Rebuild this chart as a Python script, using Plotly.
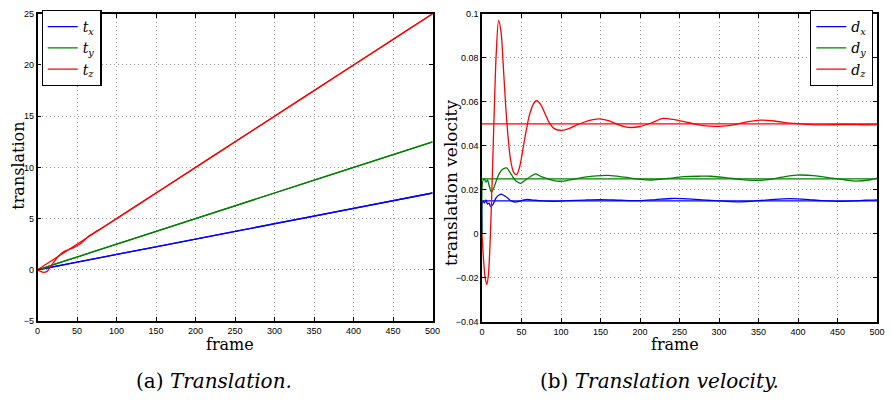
import plotly.graph_objects as go

W, H = 891, 406

# ---------------- data: translation (left) ----------------
gt_frames = [0, 500]
gt_tx = [0, 7.5]
gt_ty = [0, 12.5]
gt_tz = [0, 25.0]

est_xy_frames = [0, 10, 20, 50, 100, 200, 300, 400, 500]
est_tx = [0, 0.14, 0.3, 0.75, 1.5, 3.0, 4.5, 6.0, 7.5]
est_ty = [0, 0.23, 0.5, 1.25, 2.5, 5.0, 7.5, 10.0, 12.5]

est_tz_frames = [0, 4, 8, 12, 16, 20, 25, 30, 35, 40, 45, 50, 55, 60, 65, 70, 75, 80,
                 90, 100, 150, 200, 250, 300, 350, 400, 450, 500]
est_tz = [0, -0.15, -0.25, -0.15, 0.25, 0.7, 1.2, 1.6, 1.85, 2.0, 2.15, 2.35, 2.6, 2.95,
          3.3, 3.55, 3.8, 4.0, 4.5, 5.0, 7.5, 10.0, 12.5, 15.0, 17.5, 20.0, 22.5, 25.0]

# ---------------- data: translation velocity (right) ----------------
gt_dx = [0.015, 0.015]
gt_dy = [0.025, 0.025]
gt_dz = [0.05, 0.05]

dx_frames = [0, 1, 3, 5, 7, 9, 11, 14, 18, 22, 25, 30, 36, 41, 47, 53, 58, 65, 75, 90, 110,
             130, 150, 175, 200, 220, 240, 260, 285, 305, 327, 350, 370, 390, 410, 430, 452,
             470, 485, 500]
dx_vals = [0, 0.015, 0.014, 0.0155, 0.0135, 0.014, 0.0124, 0.0135, 0.0165, 0.0178, 0.018,
           0.017, 0.0152, 0.0145, 0.0148, 0.0155, 0.0157, 0.0154, 0.015, 0.0148, 0.0151,
           0.0154, 0.0156, 0.0153, 0.0151, 0.0156, 0.0161, 0.0159, 0.0153, 0.0149, 0.0146,
           0.0151, 0.0157, 0.016, 0.0157, 0.0151, 0.0148, 0.015, 0.0153, 0.0155]

dy_frames = [0, 1, 3, 5, 7, 9, 12, 15, 20, 25, 31, 37, 43, 49, 55, 61, 68, 75, 85, 95, 102,
             115, 130, 145, 160, 180, 200, 215, 235, 255, 275, 290, 310, 330, 348, 365, 380,
             398, 420, 440, 460, 473, 490, 500]
dy_vals = [0, 0.024, 0.025, 0.0235, 0.0245, 0.022, 0.019, 0.021, 0.026, 0.029, 0.030, 0.027,
           0.024, 0.023, 0.0245, 0.026, 0.0273, 0.026, 0.0248, 0.024, 0.024, 0.0248, 0.0258,
           0.0264, 0.0266, 0.0258, 0.0248, 0.0245, 0.0252, 0.026, 0.0262, 0.0262, 0.0255,
           0.0247, 0.0243, 0.0248, 0.0258, 0.0267, 0.0265, 0.0255, 0.0245, 0.024, 0.0245,
           0.0253]

dz_frames = [0, 2, 4, 6, 8, 10, 12, 14, 16, 18, 21, 24, 27, 30, 33, 36, 40, 44, 48, 52, 56,
             60, 65, 69, 74, 80, 86, 92, 101, 110, 120, 135, 148, 160, 172, 185, 200, 215,
             229, 245, 262, 280, 300, 320, 337, 352, 370, 390, 410, 430, 455, 480, 500]
dz_vals = [0, -0.012, -0.02, -0.023, -0.019, -0.006, 0.014, 0.038, 0.062, 0.082, 0.097,
           0.092, 0.076, 0.058, 0.044, 0.034, 0.028, 0.027, 0.031, 0.039, 0.047, 0.054,
           0.059, 0.0605, 0.059, 0.0545, 0.05, 0.0477, 0.047, 0.0478, 0.0495, 0.0515,
           0.0523, 0.0515, 0.0497, 0.0484, 0.0488, 0.0505, 0.0525, 0.0518, 0.0505, 0.0492,
           0.0489, 0.0497, 0.051, 0.0517, 0.0513, 0.0503, 0.0498, 0.0495, 0.0497, 0.0496,
           0.0495]

x_ticks = list(range(0, 501, 50))
left_y_ticks = [-5, 0, 5, 10, 15, 20, 25]
left_y_text = ["\u22125", "0", "5", "10", "15", "20", "25"]
right_y_ticks = [-0.04, -0.02, 0, 0.02, 0.04, 0.06, 0.08, 0.1]
right_y_text = ["\u22120.04", "\u22120.02", "0", "0.02", "0.04", "0.06", "0.08", "0.1"]

BLUE, GREEN, RED = "#0000ff", "#008000", "#ff0000"
SERIF = "DejaVu Serif, Liberation Serif, serif"
TICKFONT = dict(family="Liberation Sans, Arial, sans-serif", size=9, color="#000")

fig = go.Figure()

lw = 1.3
for name, gty, ef, ev, col in [
    ("<i>t</i><sub><i>x</i></sub>", gt_tx, est_xy_frames, est_tx, BLUE),
    ("<i>t</i><sub><i>y</i></sub>", gt_ty, est_xy_frames, est_ty, GREEN),
    ("<i>t</i><sub><i>z</i></sub>", gt_tz, est_tz_frames, est_tz, RED),
]:
    fig.add_trace(go.Scatter(x=gt_frames, y=gty, mode="lines", name=name,
                             line=dict(color=col, width=lw), xaxis="x", yaxis="y",
                             legend="legend"))
    fig.add_trace(go.Scatter(x=ef, y=ev, mode="lines", showlegend=False,
                             line=dict(color=col, width=lw, shape="spline", smoothing=0.8),
                             xaxis="x", yaxis="y"))

for name, gty, ef, ev, col in [
    ("<i>d</i><sub><i>x</i></sub>", gt_dx, dx_frames, dx_vals, BLUE),
    ("<i>d</i><sub><i>y</i></sub>", gt_dy, dy_frames, dy_vals, GREEN),
    ("<i>d</i><sub><i>z</i></sub>", gt_dz, dz_frames, dz_vals, RED),
]:
    fig.add_trace(go.Scatter(x=gt_frames, y=gty, mode="lines", name=name,
                             line=dict(color=col, width=lw), xaxis="x2", yaxis="y2",
                             legend="legend2"))
    fig.add_trace(go.Scatter(x=ef, y=ev, mode="lines", showlegend=False,
                             line=dict(color=col, width=lw, shape="spline", smoothing=0.8),
                             xaxis="x2", yaxis="y2"))

def px_x(p):
    return p / W

def px_y(p):
    return 1 - p / H

axis_common = dict(showline=True, linecolor="black", linewidth=1.5, mirror="ticks",
                   ticks="inside", ticklen=4, tickwidth=1, tickcolor="black",
                   showgrid=True, gridcolor="#9a9a9a", griddash="1px,3px", gridwidth=1,
                   zeroline=False, tickfont=TICKFONT)

legend_common = dict(yanchor="top", bgcolor="white", bordercolor="black", borderwidth=1.2,
                     font=dict(family=SERIF, size=14, color="#000"),
                     itemwidth=30, tracegroupgap=0)

fig.update_layout(
    width=W, height=H,
    margin=dict(l=0, r=0, t=0, b=0),
    paper_bgcolor="white", plot_bgcolor="white",
    xaxis=dict(domain=[px_x(35), px_x(435)], range=[0, 500], tickvals=x_ticks,
               anchor="y", **axis_common),
    yaxis=dict(domain=[px_y(324), px_y(9)], range=[-5, 25], tickvals=left_y_ticks,
               ticktext=left_y_text, anchor="x", **axis_common),
    xaxis2=dict(domain=[px_x(485), px_x(885)], range=[0, 500], tickvals=x_ticks,
                anchor="y2", **axis_common),
    yaxis2=dict(domain=[px_y(325), px_y(9)], range=[-0.04, 0.1], tickvals=right_y_ticks,
                ticktext=right_y_text, anchor="x2", **axis_common),
    legend=dict(x=px_x(39), y=px_y(5), xanchor="left", **legend_common),
    legend2=dict(x=px_x(881), y=px_y(5), xanchor="right", **legend_common),
    showlegend=True,
)

annots = [
    dict(text="frame", x=px_x(230), y=px_y(348), size=16, angle=0),
    dict(text="frame", x=px_x(680), y=px_y(348), size=16, angle=0),
    dict(text="translation", x=px_x(16), y=px_y(165), size=16, angle=-90),
    dict(text="translation velocity", x=px_x(453), y=px_y(182), size=17, angle=-90),
    dict(text="(a) <i>Translation.</i>", x=px_x(214), y=px_y(386), size=20, angle=0),
    dict(text="(b) <i>Translation velocity.</i>", x=px_x(665), y=px_y(386), size=20, angle=0),
]
for a in annots:
    fig.add_annotation(text=a["text"], x=a["x"], y=a["y"], xref="paper", yref="paper",
                       xanchor="center", yanchor="middle", showarrow=False,
                       textangle=a["angle"],
                       font=dict(family=SERIF, size=a["size"], color="#000"))

fig.write_html("out.html")
